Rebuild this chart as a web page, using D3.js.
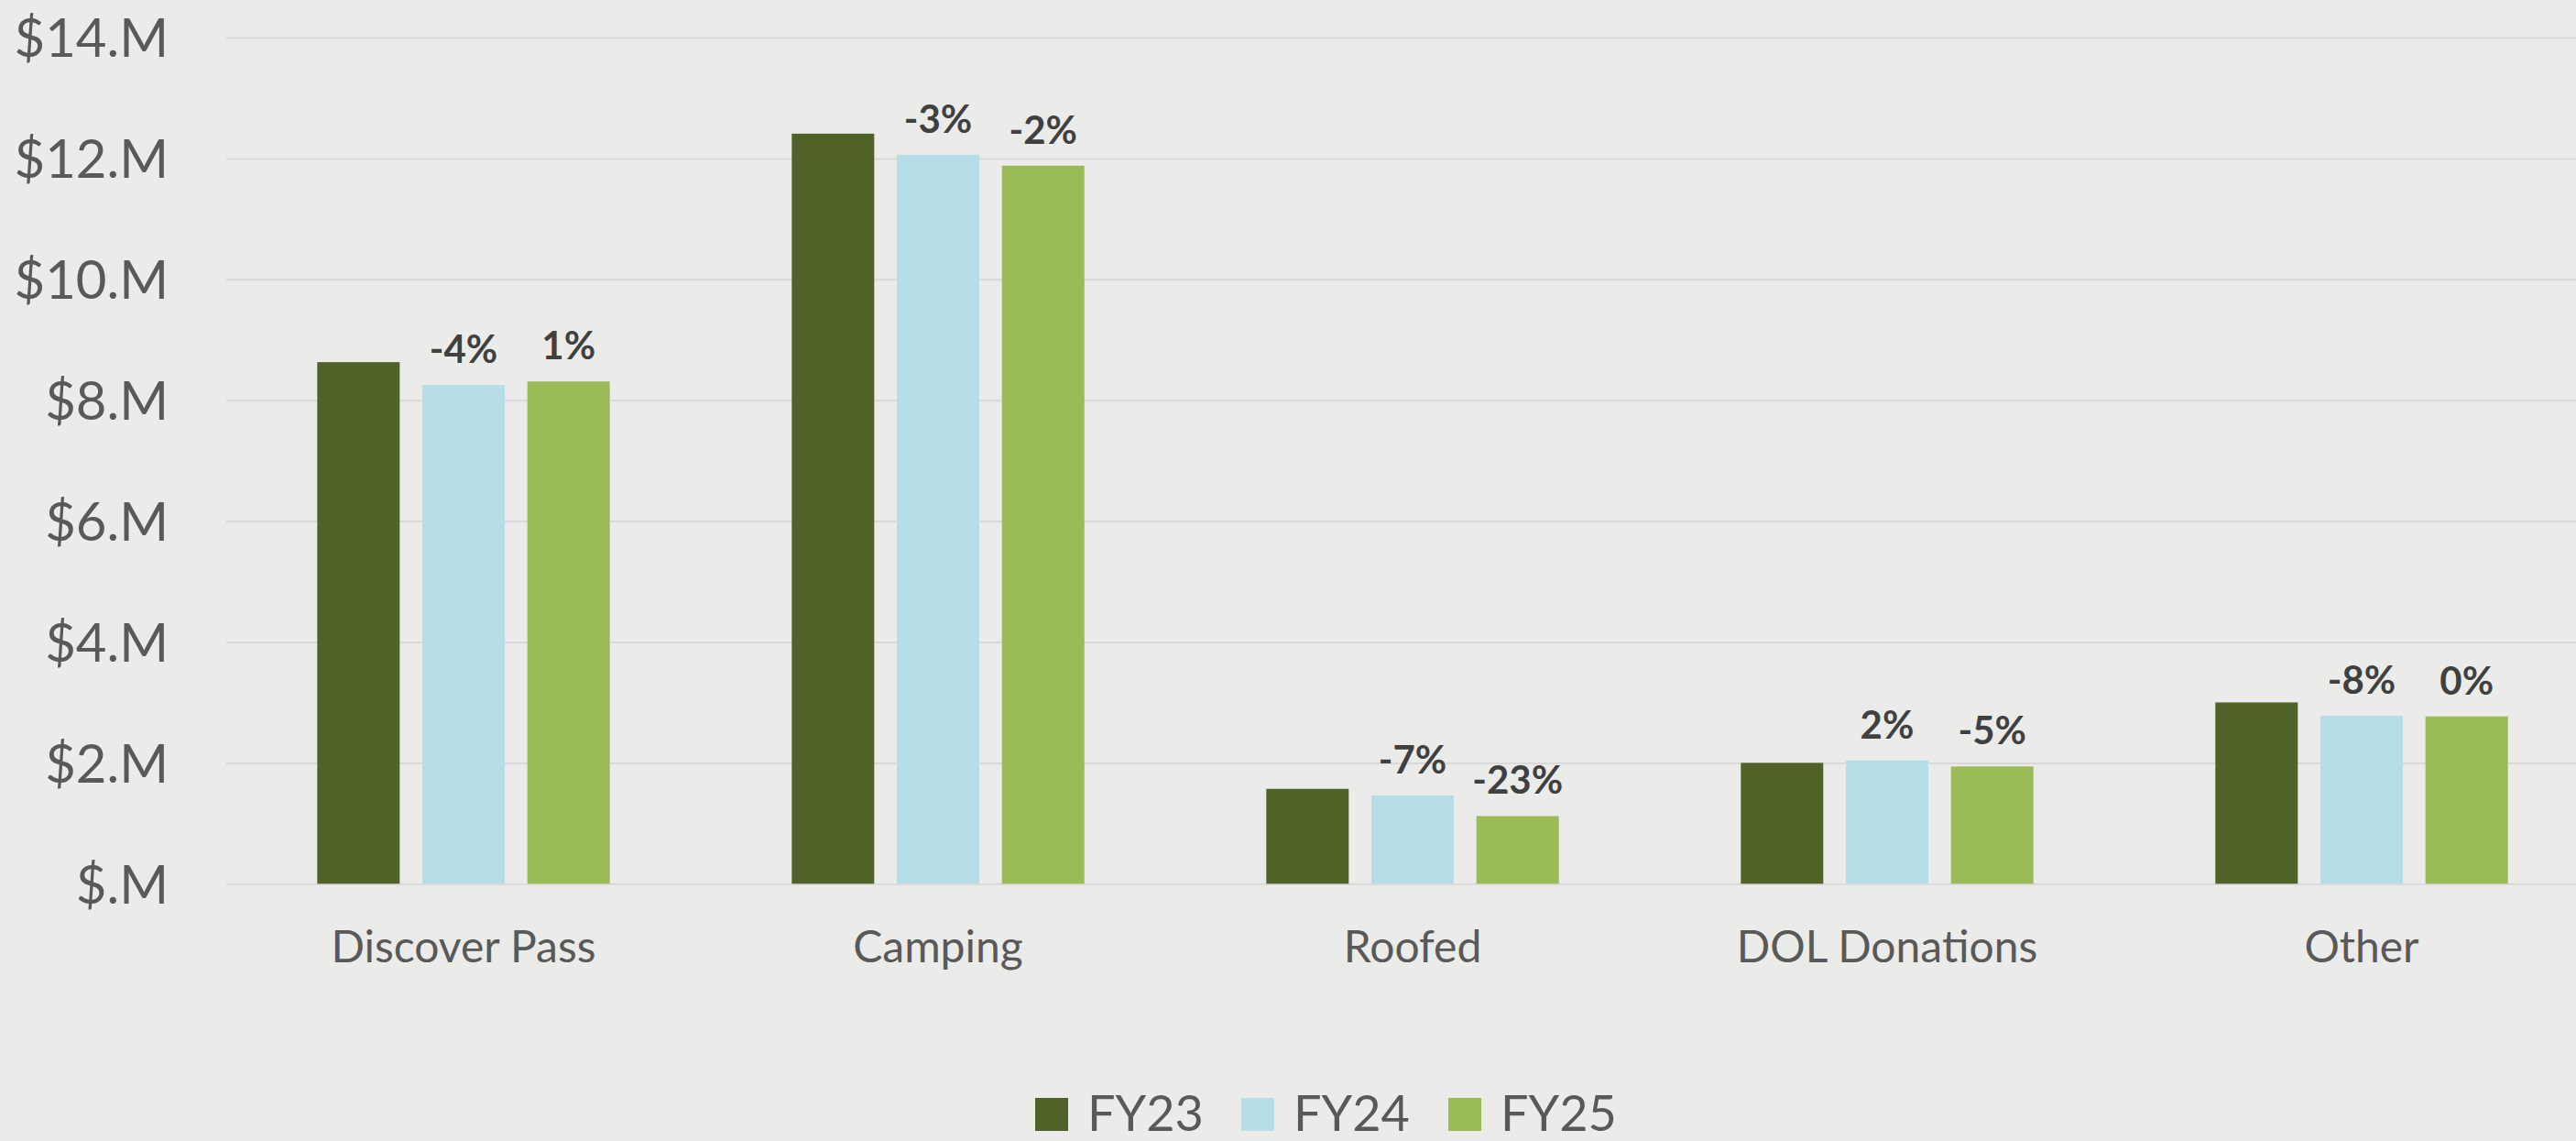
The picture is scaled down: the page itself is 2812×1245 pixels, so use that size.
<!DOCTYPE html>
<html>
<head>
<meta charset="utf-8">
<script src="https://cdn.jsdelivr.net/npm/d3@7"></script>
<style>
  html, body { margin: 0; padding: 0; background: #ebebe9; }
  svg { display: block; }
</style>
</head>
<body>
<svg id="chart"></svg>
<script>
// Chart data ($ millions)
const categories = ["Discover Pass", "Camping", "Roofed", "DOL Donations", "Other"];
const seriesNames = ["FY23", "FY24", "FY25"];
const fy23 = [8.63, 12.41, 1.57, 2.00, 3.00];
const fy24 = [8.25, 12.06, 1.46, 2.04, 2.78];
const fy25 = [8.31, 11.88, 1.12, 1.94, 2.77];
const fy24Labels = ["-4%", "-3%", "-7%", "2%", "-8%"];
const fy25Labels = ["1%", "-2%", "-23%", "-5%", "0%"];
const yTicks = [0, 2, 4, 6, 8, 10, 12, 14];
const colors = ["#4f6228", "#b7dde8", "#9bbb59"];

const font = "Lato, 'Open Sans', sans-serif";

function makeChart() {
    const width = 2812;
    const height = 1245;
    const plotLeft = 247;
    const plotRight = 2837;   // chart is cropped on the right
    const plotTop = 41;
    const plotBottom = 964.3;

    const svg = d3.select("#chart")
        .attr("width", width)
        .attr("height", height)
        .style("font-family", font);

    svg.append("rect")
        .attr("width", width)
        .attr("height", height)
        .attr("fill", "#ebebe9");

    const values = [fy23, fy24, fy25];
    const labels = [null, fy24Labels, fy25Labels];

    // Scales
    const y = d3.scaleLinear()
        .domain([0, 14])
        .range([plotBottom, plotTop]);

    const x0 = d3.scaleBand()
        .domain(categories)
        .range([plotLeft, plotRight])
        .paddingInner(0.3834)
        .paddingOuter(0.1917);

    const x1 = d3.scaleBand()
        .domain(seriesNames)
        .range([0, x0.bandwidth()])
        .paddingInner(0.2153)
        .paddingOuter(0);

    // Y axis with gridlines
    const yAxis = svg.append("g")
        .attr("transform", `translate(${plotLeft},0)`)
        .call(d3.axisLeft(y)
            .tickValues(yTicks)
            .tickSize(-(plotRight - plotLeft))
            .tickPadding(63)
            .tickFormat(v => "$" + (v ? v : "") + ".M"))
        .attr("font-family", font);

    yAxis.select(".domain").remove();
    yAxis.selectAll(".tick line")
        .attr("stroke", "#d9d9d9")
        .attr("stroke-width", 2);
    yAxis.selectAll(".tick text")
        .attr("fill", "#595959")
        .attr("font-size", 58)
        .attr("dy", "0.36em");

    // Bars
    seriesNames.forEach((name, s) => {
        svg.append("g")
            .selectAll("rect")
            .data(categories)
            .join("rect")
            .attr("x", (c) => x0(c) + x1(name))
            .attr("y", (c, i) => y(values[s][i]))
            .attr("width", x1.bandwidth())
            .attr("height", (c, i) => y(0) - y(values[s][i]))
            .attr("fill", colors[s]);

        if (labels[s]) {
            svg.append("g")
                .selectAll("text")
                .data(categories)
                .join("text")
                .attr("x", (c) => x0(c) + x1(name) + x1.bandwidth() / 2)
                .attr("y", (c, i) => y(values[s][i]) - 24)
                .attr("text-anchor", "middle")
                .attr("font-size", 42)
                .attr("font-weight", "bold")
                .attr("fill", "#404040")
                .text((c, i) => labels[s][i]);
        }
    });

    // Category axis
    const xAxis = svg.append("g")
        .attr("transform", `translate(0,${plotBottom})`)
        .call(d3.axisBottom(x0).tickSize(0))
        .attr("font-family", font);

    xAxis.select(".domain").remove();
    xAxis.selectAll(".tick text")
        .attr("y", 1050 - plotBottom)
        .attr("dy", 0)
        .attr("fill", "#595959")
        .attr("font-size", 48);

    // Legend (nudged up a little so the text is not clipped at the bottom)
    const legend = svg.append("g");
    const legendX = [1130, 1355, 1581];
    seriesNames.forEach((name, s) => {
        legend.append("rect")
            .attr("x", legendX[s])
            .attr("y", 1198)
            .attr("width", 36)
            .attr("height", 36)
            .attr("fill", colors[s]);
        legend.append("text")
            .attr("x", legendX[s] + 57)
            .attr("y", 1234)
            .attr("font-size", 54)
            .attr("fill", "#595959")
            .text(name);
    });
}

makeChart();
</script>
</body>
</html>
